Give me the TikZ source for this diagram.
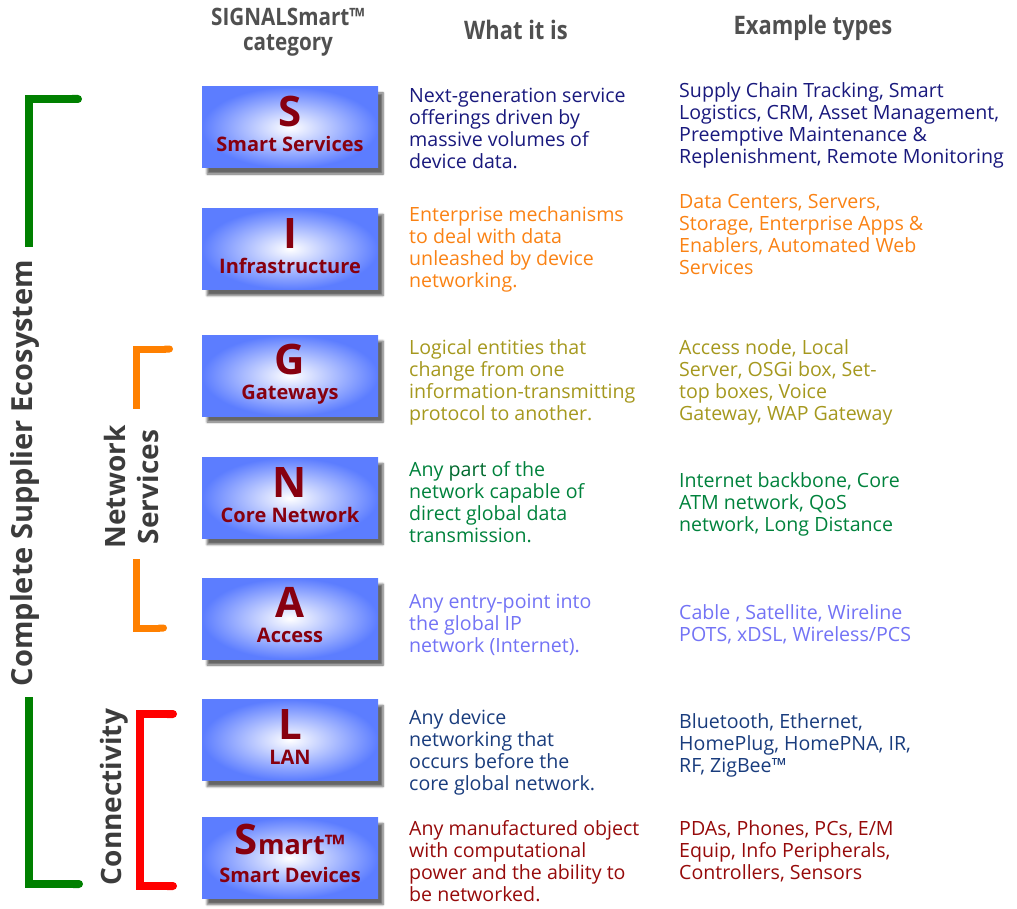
\documentclass[tikz,border=0pt]{standalone}
\usepackage{fontspec}
\setmainfont{Open Sans}
\newfontfamily\headfont[FakeStretch=0.86]{Open Sans}
\usetikzlibrary{shadows.blur,arrows.meta,calc}
\definecolor{cS}{RGB}{25,25,125}
\definecolor{cI}{RGB}{250,130,20}
\definecolor{cG}{RGB}{165,152,30}
\definecolor{cN}{RGB}{0,130,60}
\definecolor{cNd}{RGB}{0,105,45}
\definecolor{cA}{RGB}{115,115,245}
\definecolor{cL}{RGB}{25,60,125}
\definecolor{cD}{RGB}{150,10,10}
\definecolor{boxred}{RGB}{135,0,15}
\definecolor{boxblue}{RGB}{92,125,255}
\definecolor{headgray}{RGB}{80,80,80}
\definecolor{labgray}{RGB}{60,60,60}
\definecolor{brgreen}{RGB}{0,128,0}
\definecolor{brorange}{RGB}{255,128,0}
\definecolor{brred}{RGB}{255,0,0}
\tikzset{
  catbox/.style={minimum width=176pt,minimum height=81pt,inner sep=0pt,
    shading=radial,inner color=white,outer color=boxblue,
    blur shadow={shadow xshift=5pt,shadow yshift=-6pt,shadow blur steps=6,shadow opacity=60}},
  bigletter/.style={anchor=base,inner sep=0pt,text=boxred,font=\fontsize{42}{42}\selectfont\bfseries},
  subtitle/.style={anchor=base,inner sep=0pt,text=boxred,font=\fontsize{20}{22}\selectfont\bfseries},
  desc/.style={anchor=north west,inner sep=0pt,align=left,font=\fontsize{19.6}{22}\selectfont},
  header/.style={text=headgray,align=center,inner sep=0pt,font=\headfont\fontsize{24}{25}\selectfont\bfseries},
  vlabel/.style={rotate=90,text=labgray,align=center,inner sep=0pt,font=\fontsize{28}{33}\selectfont\bfseries},
  bracket/.style={line width=8pt,line cap=butt,line join=miter},
}
\begin{document}
\begin{tikzpicture}[x=1pt,y=-1pt]
\useasboundingbox (0,0) rectangle (1017,909);
% headers
\node[header] (h1) at (288,32) {SIGNALSmart™\\category};
\node[header,font=\headfont\fontsize{25.5}{26}\selectfont\bfseries] (h2) at (516,30) {What it is};
\node[header,font=\headfont\fontsize{25.5}{26}\selectfont\bfseries] (h3) at (813,28) {Example types};
% boxes
\foreach \nm/\yy in {bS/127.5,bI/249,bG/375.5,bN/498,bA/618.5,bL/740,bD/858}{
  \node[catbox] (\nm) at (290,\yy) {};
}
\node[bigletter] (lS) at ($(bS.north)+(0,40)$) {S};
\node[subtitle] (tS) at ($(bS.north)+(0,65)$) {Smart Services};
\node[bigletter] (lI) at ($(bI.north)+(0,40)$) {I};
\node[subtitle] (tI) at ($(bI.north)+(0,65)$) {Infrastructure};
\node[bigletter] (lG) at ($(bG.north)+(0,40)$) {G};
\node[subtitle] (tG) at ($(bG.north)+(0,65)$) {Gateways};
\node[bigletter] (lN) at ($(bN.north)+(0,40)$) {N};
\node[subtitle] (tN) at ($(bN.north)+(0,65)$) {Core Network};
\node[bigletter] (lA) at ($(bA.north)+(0,40)$) {A};
\node[subtitle] (tA) at ($(bA.north)+(0,65)$) {Access};
\node[bigletter] (lL) at ($(bL.north)+(0,40)$) {L};
\node[subtitle] (tL) at ($(bL.north)+(0,65)$) {LAN};
\node[bigletter] (lD) at ($(bD.north)+(0,37)$) {S{\fontsize{27}{27}\selectfont mart™}};
\node[subtitle] (tD) at ($(bD.north)+(0,65)$) {Smart Devices};
% what it is
\node[desc,text=cS] (wS) at (409,88) {Next-generation service\\offerings driven by\\massive volumes of\\device data.};
\node[desc,text=cI] (wI) at (409,206) {Enterprise mechanisms\\to deal with data\\unleashed by device\\networking.};
\node[desc,text=cG] (wG) at (409,339) {Logical entities that\\change from one\\information-transmitting\\protocol to another.};
\node[desc,text=cN] (wN) at (409,461) {Any \textcolor{cNd}{part} of the\\network capable of\\direct global data\\transmission.};
\node[desc,text=cA] (wA) at (409,594) {Any entry-point into\\the global IP\\network (Internet).};
\node[desc,text=cL] (wL) at (409,709) {Any device\\networking that\\occurs before the\\core global network.};
\node[desc,text=cD] (wD) at (409,820) {Any manufactured object\\with computational\\power and the ability to\\be networked.};
% example types
\node[desc,text=cS] (eS) at (679,82) {Supply Chain Tracking, Smart\\Logistics, CRM, Asset Management,\\Preemptive Maintenance \&\\Replenishment, Remote Monitoring};
\node[desc,text=cI] (eI) at (679,194) {Data Centers, Servers,\\Storage, Enterprise Apps \&\\Enablers, Automated Web\\Services};
\node[desc,text=cG] (eG) at (679,339) {Access node, Local\\Server, OSGi box, Set-\\top boxes, Voice\\Gateway, WAP Gateway};
\node[desc,text=cN] (eN) at (679,472) {Internet backbone, Core\\ATM network, QoS\\network, Long Distance};
\node[desc,text=cA] (eA) at (679,604) {Cable , Satellite, Wireline\\POTS, xDSL, Wireless/PCS};
\node[desc,text=cL] (eL) at (679,713) {Bluetooth, Ethernet,\\HomePlug, HomePNA, IR,\\RF, ZigBee™};
\node[desc,text=cD] (eD) at (679,820) {PDAs, Phones, PCs, E/M\\Equip, Info Peripherals,\\Controllers, Sensors};
% vertical labels
\node[vlabel,font=\fontsize{29}{33}\selectfont\bfseries] (vC) at (25,473) {Complete Supplier Ecosystem};
\node[vlabel] (vN) at (131,487) {Network\\Services};
\node[vlabel] (vK) at (114,797) {Connectivity};
% brackets
\coordinate (g1a) at (82,99); \coordinate (g1b) at (29,99); \coordinate (g1c) at (29,247);
\draw[bracket,brgreen,{Round Cap[]}-] (g1a) -- (g1b) -- (g1c);
\coordinate (g2a) at (29,697); \coordinate (g2b) at (29,884); \coordinate (g2c) at (83,884);
\draw[bracket,brgreen,-{Round Cap[]}] (g2a) -- (g2b) -- (g2c);
\coordinate (o1a) at (173,349); \coordinate (o1b) at (136,349); \coordinate (o1c) at (136,409);
\draw[bracket,brorange,line width=7pt,{Round Cap[]}-] (o1a) -- (o1b) -- (o1c);
\coordinate (o2a) at (136,559); \coordinate (o2b) at (136,628); \coordinate (o2c) at (167,628);
\draw[bracket,brorange,line width=7pt,-{Round Cap[]}] (o2a) -- (o2b) -- (o2c);
\coordinate (r1) at (177,714); \coordinate (r2) at (140,714); \coordinate (r3) at (140,886); \coordinate (r4) at (177,886);
\draw[bracket,brred,{Round Cap[]}-{Round Cap[]}] (r1) -- (r2) -- (r3) -- (r4);
\end{tikzpicture}
\end{document}
